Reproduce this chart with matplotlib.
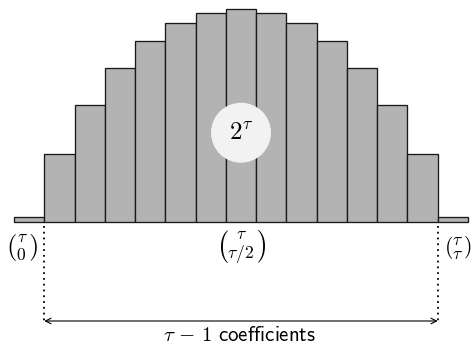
import numpy as np
import matplotlib.pyplot as plt
from matplotlib.patches import Ellipse

plt.rcParams['mathtext.fontset'] = 'cm'

# bar heights (arbitrary units)
heights = [5, 68, 117, 154, 181, 199, 209, 213, 209, 199, 181, 154, 117, 68, 5]
idx = np.arange(len(heights))
mid = len(heights) // 2

fig = plt.figure(figsize=(4.74, 3.45), dpi=100)
ax = fig.add_axes([0, 0, 1, 1])
ax.set_xlim(-0.9625, 14.698)
ax.set_ylim(-123.3, 221.7)
ax.axis('off')

ax.bar(idx, heights, width=1.0, color='#b3b3b3', edgecolor='#1a1a1a', linewidth=0.95)

# circle with 2^tau
ax.add_patch(Ellipse((mid, 89), 60 / 30.27, 60, facecolor='#f2f2f2', edgecolor='none', zorder=3))
ax.text(mid, 89, r'$2^{\tau}$', fontsize=18, ha='center', va='center', zorder=4)

# binomial labels
ax.text(-0.24, -26, r'$\binom{\tau}{0}$', fontsize=18, ha='center', va='center')
ax.text(mid, -26, r'$\binom{\tau}{\tau/2}$', fontsize=18, ha='center', va='center')
ax.text(14.17, -26, r'$\binom{\tau}{\tau}$', fontsize=18, ha='center', va='center')

# dotted guides and span arrow
for xe in [0.5, len(heights) - 1.5]:
    ax.plot([xe, xe], [-4, -99], color='black', linestyle=(0, (1, 2.2)), linewidth=1.3)
ax.annotate('', xy=(0.5, -99.3), xytext=(len(heights) - 1.5, -99.3),
            arrowprops=dict(arrowstyle='<->', color='black', linewidth=0.8,
                            shrinkA=0, shrinkB=0, mutation_scale=10))
ax.text(mid - 0.05, -113, r'$\tau\,-\,1\ \mathsf{coefficients}$', fontsize=15, ha='center', va='center')

fig.savefig('out.png', dpi=100)
